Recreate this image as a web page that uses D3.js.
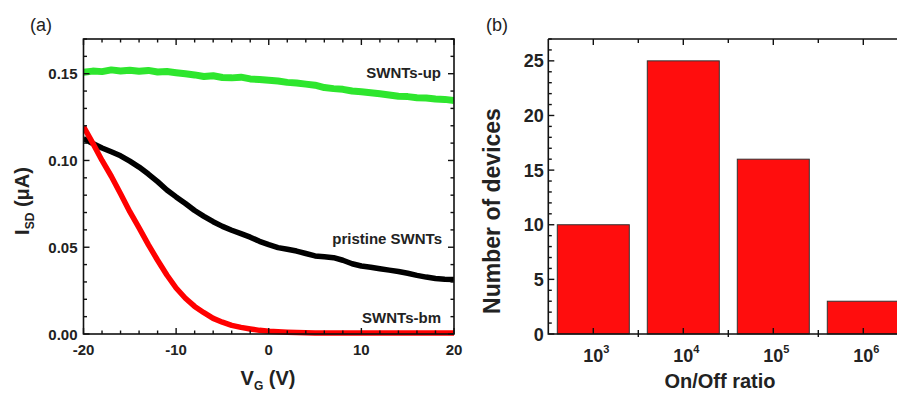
<!DOCTYPE html>
<html><head><meta charset="utf-8">
<script src="https://cdn.jsdelivr.net/npm/d3@7"></script>
<style>
html,body{margin:0;padding:0;background:#fff;}
svg{display:block;font-family:"Liberation Sans",Arial,sans-serif;}
</style></head>
<body>
<svg id="chart" width="897" height="394"></svg>
<script>
// ---------- Panel (a) data ----------
const vg = [-20,-19,-18,-17,-16,-15,-14,-13,-12,-11,-10,-9,-8,-7,-6,-5,-4,-3,-2,-1,0,1,2,3,4,5,6,7,8,9,10,11,12,13,14,15,16,17,18,19,20];
const swntsUp = [0.1508,0.1515,0.1512,0.1522,0.1516,0.1520,0.1514,0.1519,0.1510,0.1513,0.1506,0.1500,0.1493,0.1484,0.1488,0.1478,0.1476,0.1480,0.1470,0.1466,0.1462,0.1458,0.1450,0.1446,0.1440,0.1434,0.1420,0.1414,0.1410,0.1400,0.1396,0.1390,0.1384,0.1377,0.1370,0.1368,0.1362,0.1360,0.1354,0.1352,0.1346];
const pristine = [0.1125,0.1098,0.1072,0.1050,0.1027,0.0996,0.0962,0.0922,0.0878,0.0830,0.0790,0.0752,0.0712,0.0678,0.0647,0.0620,0.0598,0.0578,0.0558,0.0534,0.0515,0.0498,0.0488,0.0478,0.0464,0.0450,0.0445,0.0440,0.0425,0.0405,0.0392,0.0385,0.0376,0.0368,0.0360,0.0350,0.0338,0.0328,0.0320,0.0316,0.0314];
const swntsBm = [0.1195,0.1100,0.1000,0.0909,0.0808,0.0705,0.0611,0.0515,0.0425,0.0340,0.0265,0.0206,0.0159,0.0123,0.0090,0.0068,0.0050,0.0038,0.0029,0.0021,0.0016,0.0013,0.0010,0.0008,0.0007,0.0006,0.0006,0.0006,0.0006,0.0006,0.0006,0.0006,0.0006,0.0006,0.0006,0.0006,0.0006,0.0006,0.0006,0.0006,0.0006];
const seriesNames = ["SWNTs-up","pristine SWNTs","SWNTs-bm"];
const seriesColors = ["#2ee62e","#000000","#ff0000"];
const yTicksA = [0.00,0.05,0.10,0.15];
const xTicksA = [-20,-10,0,10,20];

// ---------- Panel (b) data ----------
const ratioExp = ["3","4","5","6"];
const deviceCounts = [10,25,16,3];
const yTicksB = [0,5,10,15,20,25];

const svg = d3.select("#chart");
const BOLD = "bold";

// ================= Panel (a) =================
const A = {l:83.5, r:454, t:39, b:334};
const xA = d3.scaleLinear().domain([-20,20]).range([A.l,A.r]);
const yA = d3.scaleLinear().domain([0,0.17]).range([A.b,A.t]);
const gA = svg.append("g");

svg.append("defs").append("clipPath").attr("id","clipA")
  .append("rect").attr("x",A.l).attr("y",A.t).attr("width",A.r-A.l).attr("height",A.b-A.t+3);

const line = d3.line().x((d,i)=>xA(vg[i])).y(d=>yA(d)).curve(d3.curveLinear);
const allSeries = [swntsUp, pristine, swntsBm];
const widths = [7,5.5,5.5];
gA.append("g").attr("clip-path","url(#clipA)")
  .selectAll("path").data(allSeries).join("path")
  .attr("d",line).attr("fill","none")
  .attr("stroke",(d,i)=>seriesColors[i]).attr("stroke-width",(d,i)=>widths[i])
  .attr("stroke-linejoin","round").attr("stroke-linecap","butt");

function minorVals(lo,hi,step){const out=[];for(let v=lo;v<=hi+1e-9;v+=step)out.push(+v.toFixed(6));return out;}
const xMinorA = minorVals(-20,20,2);
const yMinorA = minorVals(0,0.17,0.01);

const axA = gA.append("g").attr("stroke","#111").attr("stroke-width",1.4);
axA.selectAll(".xb").data(xMinorA).join("line")
  .attr("x1",d=>xA(d)).attr("x2",d=>xA(d))
  .attr("y1",A.b).attr("y2",d=>A.b-(xTicksA.includes(d)?6:3.5));
axA.selectAll(".xt").data(xMinorA).join("line")
  .attr("x1",d=>xA(d)).attr("x2",d=>xA(d))
  .attr("y1",A.t).attr("y2",d=>A.t+(xTicksA.includes(d)?6:3.5));
const isMajA = d=>yTicksA.some(t=>Math.abs(t-d)<1e-6);
axA.selectAll(".yl").data(yMinorA).join("line")
  .attr("y1",d=>yA(d)).attr("y2",d=>yA(d))
  .attr("x1",A.l).attr("x2",d=>A.l+(isMajA(d)?6:3.5));
axA.selectAll(".yr").data(yMinorA).join("line")
  .attr("y1",d=>yA(d)).attr("y2",d=>yA(d))
  .attr("x1",A.r).attr("x2",d=>A.r-(isMajA(d)?6:3.5));
gA.append("rect").attr("x",A.l).attr("y",A.t).attr("width",A.r-A.l).attr("height",A.b-A.t)
  .attr("fill","none").attr("stroke","#111").attr("stroke-width",1.6);

gA.selectAll(".ytl").data(yTicksA).join("text")
  .attr("x",A.l-6).attr("y",d=>yA(d)+5.5).attr("text-anchor","end")
  .attr("font-size",15).attr("font-weight",BOLD).attr("fill","#222")
  .text(d=>d3.format(".2f")(d));
gA.selectAll(".xtl").data(xTicksA).join("text")
  .attr("x",d=>xA(d)).attr("y",355).attr("text-anchor","middle")
  .attr("font-size",15).attr("font-weight",BOLD).attr("fill","#222")
  .text(d=>d);

const ytA = gA.append("text").attr("transform","translate(29,201) rotate(-90)")
  .attr("text-anchor","middle").attr("font-size",20).attr("font-weight",BOLD).attr("fill","#222");
ytA.append("tspan").text("I");
ytA.append("tspan").attr("font-size",12).attr("dy",5).text("SD");
ytA.append("tspan").attr("dy",-5).text(" (μA)");

const xtA = gA.append("text").attr("x",268).attr("y",385)
  .attr("text-anchor","middle").attr("font-size",20).attr("font-weight",BOLD).attr("fill","#222");
xtA.append("tspan").text("V");
xtA.append("tspan").attr("font-size",12).attr("dy",5).text("G");
xtA.append("tspan").attr("dy",-5).text(" (V)");

const labelPos = [[441,78],[442,244],[441,323]];
gA.selectAll(".slab").data(seriesNames).join("text")
  .attr("x",(d,i)=>labelPos[i][0]).attr("y",(d,i)=>labelPos[i][1])
  .attr("text-anchor","end").attr("font-size",15).attr("font-weight",BOLD).attr("fill","#222")
  .text(d=>d);

gA.append("text").attr("x",30).attr("y",31).attr("font-size",18).attr("fill","#222").text("(a)");

// ================= Panel (b) =================
const B = {l:548.3, t:39, b:334};
const stepB = 90;
const xB = d3.scaleLinear().domain([0.5,4.5]).range([B.l,B.l+4*stepB]);
const yB = d3.scaleLinear().domain([0,27]).range([B.b,B.t]);
const gB = svg.append("g");

gB.selectAll("rect.bar").data(deviceCounts).join("rect").attr("class","bar")
  .attr("x",(d,i)=>xB(i+1)-36).attr("width",72)
  .attr("y",d=>yB(d)).attr("height",d=>yB(0)-yB(d))
  .attr("fill","#ff0d0d").attr("stroke","#333").attr("stroke-width",1);

const axB = gB.append("g").attr("stroke","#111").attr("stroke-width",1.4);
const xMajB = [1,2,3,4];
const xMinB = [1.5,2.5,3.5,4.5];
axB.selectAll(".xbM").data(xMajB).join("line")
  .attr("x1",d=>xB(d)).attr("x2",d=>xB(d)).attr("y1",B.b).attr("y2",B.b-6);
axB.selectAll(".xbm").data(xMinB).join("line")
  .attr("x1",d=>xB(d)).attr("x2",d=>xB(d)).attr("y1",B.b+3).attr("y2",B.b-4);
axB.selectAll(".xtM").data(xMajB.concat(xMinB)).join("line")
  .attr("x1",d=>xB(d)).attr("x2",d=>xB(d)).attr("y1",B.t).attr("y2",d=>B.t+(Number.isInteger(d)?6:4));
const yMinorB = minorVals(0,27,1);
axB.selectAll(".yl").data(yMinorB).join("line")
  .attr("y1",d=>yB(d)).attr("y2",d=>yB(d))
  .attr("x1",B.l).attr("x2",d=>B.l+(d%5===0?6:3.5));
gB.append("path")
  .attr("d",`M${B.l},${B.t}H${B.l+4*stepB}M${B.l},${B.t}V${B.b}H${B.l+4*stepB}`)
  .attr("fill","none").attr("stroke","#111").attr("stroke-width",1.6);

gB.selectAll(".ytl").data(yTicksB).join("text")
  .attr("x",B.l-4.5).attr("y",d=>yB(d)+6.5).attr("text-anchor","end")
  .attr("font-size",18).attr("font-weight",BOLD).attr("fill","#222")
  .text(d=>d);

const xl = gB.selectAll(".xtl").data(ratioExp).join("text")
  .attr("x",(d,i)=>xB(i+1)+3).attr("y",361.5).attr("text-anchor","middle")
  .attr("font-size",18).attr("font-weight",BOLD).attr("fill","#222");
xl.append("tspan").text("10");
xl.append("tspan").attr("font-size",11).attr("dy",-9).text(d=>d);

gB.append("text").attr("transform","translate(500,211) rotate(-90)")
  .attr("text-anchor","middle").attr("font-size",23).attr("font-weight",BOLD).attr("fill","#222")
  .text("Number of devices");
gB.append("text").attr("x",720).attr("y",388).attr("text-anchor","middle")
  .attr("font-size",20).attr("font-weight",BOLD).attr("fill","#222")
  .text("On/Off ratio");

gB.append("text").attr("x",486).attr("y",31).attr("font-size",18).attr("fill","#222").text("(b)");
</script>
</body></html>
